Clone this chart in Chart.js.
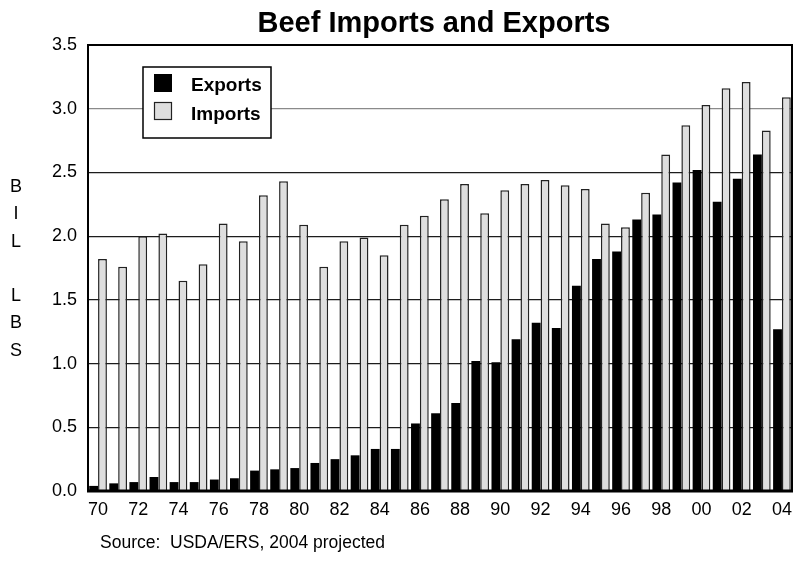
<!DOCTYPE html>
<html>
<head>
<meta charset="utf-8">
<script src="https://cdn.jsdelivr.net/npm/chart.js@4.4.1/dist/chart.umd.min.js"></script>
<style>
  html, body { margin: 0; padding: 0; background: #fff; }
  #c { display: block; }
</style>
</head>
<body>
<canvas id="c" width="800" height="561"></canvas>
<script>
const years = ['70','71','72','73','74','75','76','77','78','79','80','81','82','83','84','85','86','87','88','89','90','91','92','93','94','95','96','97','98','99','00','01','02','03','04'];
const exportsBil = [0.04,0.06,0.07,0.11,0.07,0.07,0.09,0.10,0.16,0.17,0.18,0.22,0.25,0.28,0.33,0.33,0.53,0.61,0.69,1.02,1.01,1.19,1.32,1.28,1.61,1.82,1.88,2.13,2.17,2.42,2.52,2.27,2.45,2.64,1.27];
const importsBil = [1.82,1.76,2.00,2.02,1.65,1.78,2.10,1.96,2.32,2.43,2.09,1.76,1.96,1.99,1.85,2.09,2.16,2.29,2.41,2.18,2.36,2.41,2.44,2.40,2.37,2.10,2.07,2.34,2.64,2.87,3.03,3.16,3.21,2.83,3.09];
const seriesNames = ['Exports', 'Imports'];
const titleText = 'Beef Imports and Exports';
const sourceText = 'Source:  USDA/ERS, 2004 projected';
const yTitleLetters = ['B','I','L','','L','B','S'];

const FONT = '"Liberation Sans", Arial, Helvetica, sans-serif';
const GREY = '#dedede';

const decor = {
  id: 'decor',
  afterDatasetsDraw(chart) {
    const ctx = chart.ctx;
    const a = chart.chartArea;
    ctx.save();
    // plot frame
    ctx.strokeStyle = '#000';
    ctx.lineWidth = 2;
    ctx.strokeRect(a.left, a.top, a.right - a.left, a.bottom - a.top);
    ctx.lineWidth = 3;
    ctx.beginPath();
    ctx.moveTo(a.left - 1, a.bottom);
    ctx.lineTo(a.right + 1, a.bottom);
    ctx.stroke();

    // legend
    const lx = a.left + 55, ly = a.top + 22;
    ctx.fillStyle = '#fff';
    ctx.fillRect(lx, ly, 128, 71);
    ctx.lineWidth = 1.5;
    ctx.strokeStyle = '#000';
    ctx.strokeRect(lx, ly, 128, 71);
    ctx.fillStyle = '#000';
    ctx.fillRect(lx + 11, ly + 7, 18, 18);
    ctx.fillStyle = GREY;
    ctx.fillRect(lx + 11, ly + 35, 18, 18);
    ctx.lineWidth = 1.2;
    ctx.strokeStyle = '#222';
    ctx.strokeRect(lx + 11.5, ly + 35.5, 17, 17);
    ctx.fillStyle = '#000';
    ctx.font = 'bold 19px ' + FONT;
    ctx.textAlign = 'left';
    ctx.textBaseline = 'alphabetic';
    ctx.fillText(seriesNames[0], lx + 48, ly + 24);
    ctx.fillText(seriesNames[1], lx + 48, ly + 53);
    ctx.restore();
  },
  afterDraw(chart) {
    const ctx = chart.ctx;
    const a = chart.chartArea;
    ctx.save();
    ctx.fillStyle = '#000';
    // title
    ctx.font = 'bold 29px ' + FONT;
    ctx.textAlign = 'center';
    ctx.textBaseline = 'alphabetic';
    ctx.fillText(titleText, (a.left + a.right) / 2 - 6, 32);
    // y title letters
    ctx.font = '18px ' + FONT;
    ctx.textBaseline = 'middle';
    yTitleLetters.forEach((ch, i) => {
      if (ch) ctx.fillText(ch, 16, 187 + i * 27.3);
    });
    // source
    ctx.font = '17.5px ' + FONT;
    ctx.textAlign = 'left';
    ctx.textBaseline = 'alphabetic';
    ctx.fillText(sourceText, 100, 548);
    ctx.restore();
  }
};

new Chart(document.getElementById('c'), {
  type: 'bar',
  data: {
    labels: years,
    datasets: [
      {
        label: seriesNames[0],
        data: exportsBil,
        backgroundColor: '#000',
        borderColor: '#000',
        borderWidth: 0,
        categoryPercentage: 0.88,
        barPercentage: 1.0
      },
      {
        label: seriesNames[1],
        data: importsBil,
        backgroundColor: GREY,
        borderColor: '#222',
        borderWidth: 1.5,
        borderSkipped: 'bottom',
        categoryPercentage: 0.88,
        barPercentage: 1.0
      }
    ]
  },
  options: {
    responsive: false,
    animation: false,
    devicePixelRatio: 1,
    layout: { padding: { left: 0, right: 3, top: 45, bottom: 0 } },
    plugins: {
      legend: { display: false },
      title: { display: false },
      tooltip: { enabled: false }
    },
    scales: {
      x: {
        grid: { display: false, drawTicks: false },
        border: { display: true, color: '#000', width: 2 },
        ticks: {
          autoSkip: false,
          maxRotation: 0,
          padding: 8,
          color: '#000',
          font: { family: FONT, size: 18 },
          callback: (v, i) => (i % 2 === 0 ? years[i] : '')
        },
        afterFit: (s) => { s.height = 70; }
      },
      y: {
        min: 0,
        max: 3.5,
        grid: {
          drawTicks: false,
          lineWidth: 1.2,
          color: (ctx) => (ctx.tick && Math.abs(ctx.tick.value - 3) < 1e-6 ? '#8a8a8a' : '#1c1c1c')
        },
        border: { display: true, color: '#000', width: 2 },
        ticks: {
          stepSize: 0.5,
          padding: 11,
          color: '#000',
          font: { family: FONT, size: 18 },
          callback: (v) => Number(v).toFixed(1)
        },
        afterFit: (s) => { s.width = 88; }
      }
    }
  },
  plugins: [decor]
});
</script>
</body>
</html>
